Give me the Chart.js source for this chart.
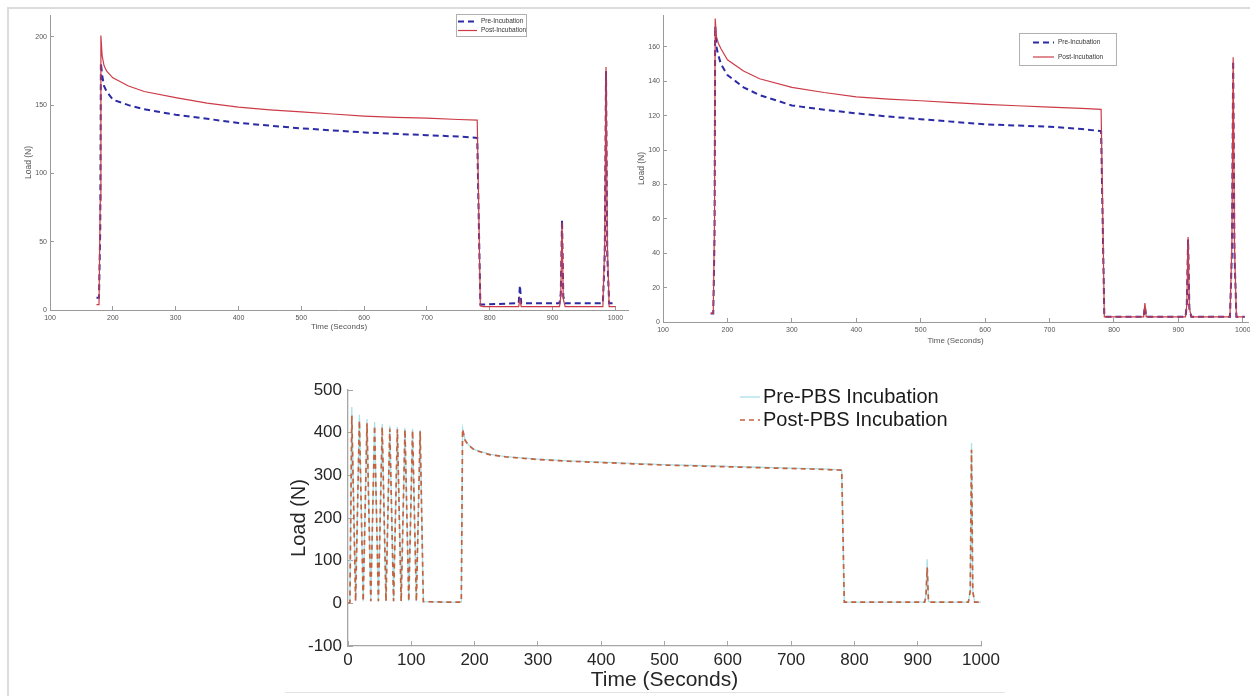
<!DOCTYPE html>
<html><head><meta charset="utf-8">
<script src="https://cdn.jsdelivr.net/npm/chart.js@4.4.1/dist/chart.umd.min.js"></script>
<style>
html,body{margin:0;padding:0;background:#fff;}
#wrap{position:relative;width:1250px;height:696px;overflow:hidden;background:#fff;}
#wrap canvas{position:absolute;left:0;top:0;}
.frame{position:absolute;left:7px;top:7px;width:1300px;height:720px;border-left:2px solid #dcdcdc;border-top:2px solid #dcdcdc;}
.bline{position:absolute;left:285px;top:692px;width:720px;height:1px;background:#e4e4e4;}
</style></head>
<body><div id="wrap"><div class="frame"></div><div class="bline"></div>
<canvas id="c1" width="1250" height="696"></canvas>
<canvas id="c2" width="1250" height="696"></canvas>
<canvas id="c3" width="1250" height="696"></canvas>
</div>
<script>
// ---------- DATA ----------
// Top-left panel
const tlTime = [174, 178, 180, 181, 183, 186, 190, 200, 225, 250, 300, 350, 400, 450, 500, 550, 600, 650, 700, 750, 780, 785, 790, 846, 848, 850, 852, 911, 913, 915, 917, 920, 980, 983, 985, 987, 990, 1000];
const tlPre  = [9, 9, 60, 181, 172, 164, 160, 154, 150, 147, 143, 140, 137, 135, 133, 131.5, 130, 129, 128, 127, 126, 4, 4, 5, 18, 5, 5, 5, 12, 66, 10, 5, 5, 40, 175, 40, 5, 5];
const tlPost = [4, 4, 80, 201, 186, 179, 175, 170, 164, 160, 155.5, 151.5, 148.5, 146.5, 145, 143.5, 142, 141, 140.5, 139.5, 139, 3, 2.5, 2.5, 8, 2.5, 2.5, 2.5, 10, 64, 8, 2.5, 2.5, 50, 178, 50, 2.5, 2.5];
const tlXTicks = [100, 200, 300, 400, 500, 600, 700, 800, 900, 1000];
const tlYTicks = [0, 50, 100, 150, 200];

// Top-right panel
const trTime = [174, 178, 180, 181, 183, 186, 190, 200, 225, 250, 300, 350, 400, 450, 500, 550, 600, 650, 700, 750, 780, 785, 790, 846, 848, 850, 852, 911, 913, 915, 917, 920, 980, 983, 985, 987, 990, 1003];
const trPre  = [5, 5, 50, 172, 160, 155, 150, 143.7, 136.5, 132, 126, 123.5, 121.4, 119.5, 118, 116.5, 115, 114.3, 113.6, 112.3, 111, 3, 3, 3, 9, 3, 3, 3, 10, 48, 8, 3, 3, 40, 152, 40, 3, 3];
const trPost = [5, 5, 60, 176.6, 166, 162, 159, 152.5, 146, 141.5, 136.5, 133.5, 131, 129.7, 128.7, 127.6, 126.6, 125.8, 125, 124.3, 123.7, 3, 3, 3, 11, 3, 3, 3, 10, 49.5, 8, 3, 3, 45, 154, 45, 3, 3];
const trXTicks = [100, 200, 300, 400, 500, 600, 700, 800, 900, 1000];
const trYTicks = [0, 20, 40, 60, 80, 100, 120, 140, 160];

// Bottom panel
const btTime = [0, 3, 6, 12, 18, 24, 30, 36, 42, 48, 54, 60, 66, 72, 78, 84, 90, 96, 102, 108, 114, 119, 150, 179, 181, 185, 190, 200, 225, 250, 300, 350, 400, 450, 500, 550, 600, 650, 700, 750, 780, 784, 790, 850, 911, 913, 915, 917, 920, 980, 983, 985, 987, 990, 1000];
const btPre  = [0, 2, 460, 5, 442, 5, 432, 5, 425, 5, 420, 5, 416, 5, 413, 5, 411, 5, 409, 5, 407, 4, 3, 3, 410, 383, 372, 360, 349, 344, 338, 334, 331, 328, 325, 323, 321, 319, 317, 315, 313, 3, 3, 3, 3, 20, 103, 5, 3, 3, 30, 376, 30, 3, 3];
const btPost = [0, 2, 440, 5, 428, 5, 422, 5, 416, 5, 413, 5, 410, 5, 408, 5, 407, 5, 405, 5, 403, 4, 3, 3, 408, 382, 371, 359, 348, 343, 337, 333, 330, 327, 324, 322, 320, 318, 316, 314, 312, 3, 3, 3, 3, 15, 84, 5, 3, 3, 28, 360, 28, 3, 3];
const btXTicks = [0, 100, 200, 300, 400, 500, 600, 700, 800, 900, 1000];
const btYTicks = [-100, 0, 100, 200, 300, 400, 500];

const toPts = (xs, ys) => xs.map((x, i) => ({x: x, y: ys[i]}));

// ---------- legend drawn at fixed place ----------
const placedLegend = {
  id: 'placedLegend',
  afterDraw(chart, args, o) {
    const ctx = chart.ctx;
    ctx.save();
    if (o.box) {
      ctx.fillStyle = '#fff';
      ctx.fillRect(o.box[0], o.box[1], o.box[2], o.box[3]);
      ctx.strokeStyle = o.boxColor; ctx.lineWidth = 1;
      ctx.strokeRect(o.box[0] + 0.5, o.box[1] + 0.5, o.box[2], o.box[3]);
    }
    chart.data.datasets.forEach((ds, i) => {
      const y = o.rows[i];
      ctx.beginPath();
      ctx.setLineDash(ds.borderDash || []);
      ctx.strokeStyle = ds.borderColor;
      ctx.lineWidth = ds.borderWidth;
      ctx.moveTo(o.line[0], y); ctx.lineTo(o.line[1], y); ctx.stroke();
      ctx.setLineDash([]);
      ctx.fillStyle = o.color; ctx.font = o.font; ctx.textBaseline = 'middle'; ctx.textAlign = 'left';
      ctx.fillText(ds.label, o.textX, y);
    });
    ctx.restore();
  }
};

function makeChart(id, cfg) {
  const fixY = s => { s.width = cfg.yW; };
  const fixX = s => { s.height = cfg.xH; s.paddingLeft = 0; s.paddingRight = 0; };
  return new Chart(document.getElementById(id), {
    type: 'line',
    data: { datasets: cfg.datasets },
    plugins: [placedLegend],
    options: {
      responsive: false, animation: false, events: [],
      layout: { padding: cfg.pad },
      elements: { point: { radius: 0 }, line: { tension: 0 } },
      plugins: { legend: { display: false }, tooltip: { enabled: false }, placedLegend: cfg.legend },
      scales: {
        x: {
          type: 'linear', min: cfg.xMin, max: cfg.xMax,
          afterBuildTicks: s => { s.ticks = cfg.xTicks.map(v => ({value: v})); },
          afterFit: fixX,
          border: { display: true, color: cfg.axisColor, width: cfg.axisW },
          grid: { drawOnChartArea: false, drawTicks: true, tickLength: -cfg.tickLen, tickColor: cfg.axisColor, tickWidth: 1 },
          ticks: { padding: cfg.tickPadX, color: cfg.textColor, font: { family: cfg.family, size: cfg.tickSize }, maxRotation: 0, autoSkip: false, callback: v => String(v) },
          title: { display: true, text: 'Time (Seconds)', color: cfg.textColor, font: { family: cfg.family, size: cfg.titleSize }, padding: cfg.xTitlePad }
        },
        y: {
          type: 'linear', min: cfg.yMin, max: cfg.yMax,
          afterBuildTicks: s => { s.ticks = cfg.yTicks.map(v => ({value: v})); },
          afterFit: fixY,
          border: { display: true, color: cfg.axisColor, width: cfg.axisW },
          grid: { drawOnChartArea: false, drawTicks: true, tickLength: -cfg.tickLen, tickColor: cfg.axisColor, tickWidth: 1 },
          ticks: { padding: cfg.tickPadY, color: cfg.textColor, font: { family: cfg.family, size: cfg.tickSize }, autoSkip: false, callback: v => String(v) },
          title: { display: true, text: 'Load (N)', color: cfg.textColor, font: { family: cfg.family, size: cfg.yTitleSize }, padding: cfg.yTitlePad }
        }
      }
    }
  });
}

const small = { family: "'Liberation Sans', Arial, sans-serif", textColor: '#555555', axisColor: '#9a9a9a', axisW: 1, tickLen: 4, tickSize: 7, titleSize: 8, yTitleSize: 8.5, tickPadX: 8, tickPadY: 7 };

makeChart('c1', Object.assign({}, small, {
  pad: { left: 10, right: 622, top: 15, bottom: 356 }, yW: 40, xH: 30,
  xMin: 100, xMax: 1020, yMin: 0, yMax: 216, xTicks: tlXTicks, yTicks: tlYTicks,
  xTitlePad: { top: 0, bottom: 8 }, yTitlePad: { top: 14, bottom: 0 },
  datasets: [
    { label: 'Pre-Incubation', data: toPts(tlTime, tlPre), borderColor: '#2b2ba6', borderWidth: 2, borderDash: [6, 4], order: 1 },
    { label: 'Post-Incubation', data: toPts(tlTime, tlPost), borderColor: '#cc3b47', borderWidth: 1.2, order: 0 }
  ],
  legend: { box: [456, 14, 70, 22], boxColor: '#b0b0b0', rows: [21.5, 30.5], line: [458, 477], textX: 481, color: '#333', font: "6.5px 'Liberation Sans', Arial, sans-serif" }
}));

makeChart('c2', Object.assign({}, small, {
  pad: { left: 623, right: 2, top: 15, bottom: 344 }, yW: 40, xH: 30,
  xMin: 100, xMax: 1008, yMin: 0, yMax: 178.6, xTicks: trXTicks, yTicks: trYTicks,
  xTitlePad: { top: 0, bottom: 6 }, yTitlePad: { top: 14, bottom: 0 },
  datasets: [
    { label: 'Pre-Incubation', data: toPts(trTime, trPre), borderColor: '#2b2ba6', borderWidth: 2, borderDash: [6, 4], order: 1 },
    { label: 'Post-Incubation', data: toPts(trTime, trPost), borderColor: '#cc3b47', borderWidth: 1.2, order: 0 }
  ],
  legend: { box: [1019, 33, 97, 32], boxColor: '#b0b0b0', rows: [42.5, 57], line: [1033, 1054], textX: 1058, color: '#333', font: "6.5px 'Liberation Sans', Arial, sans-serif" }
}));

makeChart('c3', {
  family: "'Liberation Sans', Arial, sans-serif", textColor: '#262626', axisColor: '#a6a6a6', axisW: 1.3, tickLen: 5, tickSize: 17, titleSize: 21, yTitleSize: 20, tickPadX: 9, tickPadY: 11,
  pad: { left: 278, right: 269, top: 390, bottom: 0 }, yW: 70, xH: 50,
  xMin: 0, xMax: 1000, yMin: -100, yMax: 500, xTicks: btXTicks, yTicks: btYTicks,
  xTitlePad: { top: 0, bottom: 3 }, yTitlePad: { top: 9, bottom: 0 },
  datasets: [
    { label: 'Pre-PBS Incubation', data: toPts(btTime, btPre), borderColor: '#a9e1ea', borderWidth: 1.3, order: 1 },
    { label: 'Post-PBS Incubation', data: toPts(btTime, btPost), borderColor: '#c4623d', borderWidth: 1.7, borderDash: [5, 4], order: 0 }
  ],
  legend: { rows: [397, 420], line: [740, 760], textX: 763, color: '#1a1a1a', font: "20px 'Liberation Sans', Arial, sans-serif" }
});
</script>
</body></html>
